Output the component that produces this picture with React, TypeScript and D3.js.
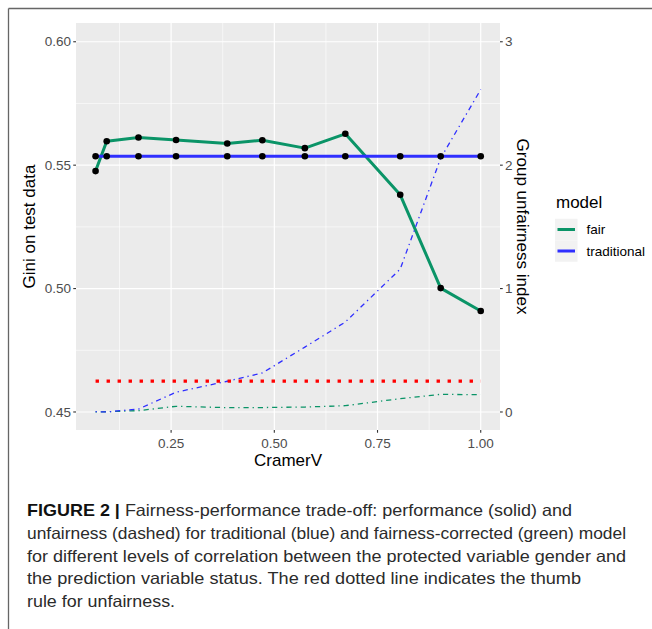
import React from "react";
import * as d3 from "d3";

const cramerV = [0.067, 0.094, 0.171, 0.262, 0.386, 0.471, 0.574, 0.672, 0.805, 0.903, 1.0];
const giniFair = [0.5476, 0.5597, 0.5612, 0.5602, 0.5588, 0.5601, 0.5569, 0.5627, 0.538, 0.5002, 0.4909];
const giniTraditional = [0.5536, 0.5536, 0.5536, 0.5536, 0.5536, 0.5536, 0.5536, 0.5536, 0.5536, 0.5536, 0.5536];
const unfairFair = [0.0, 0.002, 0.011, 0.046, 0.035, 0.036, 0.04, 0.051, 0.108, 0.143, 0.14];
const unfairTraditional = [0.003, 0.0, 0.024, 0.16, 0.249, 0.316, 0.526, 0.729, 1.158, 2.057, 2.613];
const unfairThreshold = 0.25;
const xTicks = [0.25, 0.5, 0.75, 1.0];
const xMinor = [0.125, 0.375, 0.625, 0.875];
const yTicks = [0.45, 0.5, 0.55, 0.6];
const yMinor = [0.475, 0.525, 0.575];
const rightTicks = [0, 1, 2, 3];
const legendLabels = ["fair", "traditional"];
const captionLines = [
  "Fairness-performance trade-off: performance (solid) and",
  "unfairness (dashed) for traditional (blue) and fairness-corrected (green) model",
  "for different levels of correlation between the protected variable gender and",
  "the prediction variable status. The red dotted line indicates the thumb",
  "rule for unfairness.",
];
// target right edges of caption lines 1-4 (line 5 follows the average compression)
const captionEnds = [572, 626, 626, 581];

const GREEN = "#0a9467";
const BLUE = "#2f2fff";
const FONT = "'Liberation Sans', Arial, Helvetica, sans-serif";
const CAP_X = 27;

export default function App() {
  const capRefs = React.useRef<(SVGTextElement | null)[]>([]);
  const [capLens, setCapLens] = React.useState<(number | undefined)[]>([]);

  React.useLayoutEffect(() => {
    const nat = capRefs.current.map((el) => (el ? el.getComputedTextLength() : 0));
    const ks = captionEnds.map((e, i) => (e - CAP_X) / (nat[i] || 1));
    const kAvg = d3.mean(ks) || 1;
    const lens = nat.map((n, i) => (i < captionEnds.length ? captionEnds[i] - CAP_X : n * kAvg));
    setCapLens(lens);
  }, []);

  const x = d3.scaleLinear().domain([0.0196, 1.0467]).range([76, 500]);
  const y = d3.scaleLinear().domain([0.4427, 0.6076]).range([430, 23]);
  const toGini = (u: number) => 0.45 + u / 20;

  const line = d3
    .line<[number, number]>()
    .x((d) => x(d[0]))
    .y((d) => y(d[1]));

  const zip = (a: number[], b: number[]) => a.map((v, i) => [v, b[i]] as [number, number]);
  const fairPts = zip(cramerV, giniFair);
  const tradPts = zip(cramerV, giniTraditional);
  const fairU = zip(cramerV, unfairFair.map(toGini));
  const tradU = zip(cramerV, unfairTraditional.map(toGini));

  const [px0, px1] = x.range();
  const [py1, py0] = y.range();
  const dotdash = "1.3 3.9 5.2 3.9";

  return (
    <svg
      width={652}
      height={629}
      style={{ position: "absolute", left: 0, top: 0, background: "#fff" }}
      fontFamily={FONT}
    >
      <rect x={0} y={0} width={652} height={629} fill="#fff" />
      {/* outer frame */}
      <line x1={8.5} x2={652} y1={8.5} y2={8.5} stroke="#666" strokeWidth={1.3} />
      <line x1={8.5} x2={8.5} y1={8.5} y2={629} stroke="#666" strokeWidth={1.3} />

      {/* panel */}
      <rect x={px0} y={py0} width={px1 - px0} height={py1 - py0} fill="#EBEBEB" />
      {xMinor.map((v) => (
        <line key={"xm" + v} x1={x(v)} x2={x(v)} y1={py0} y2={py1} stroke="#fff" strokeWidth={0.6} />
      ))}
      {yMinor.map((v) => (
        <line key={"ym" + v} x1={px0} x2={px1} y1={y(v)} y2={y(v)} stroke="#fff" strokeWidth={0.6} />
      ))}
      {xTicks.map((v) => (
        <line key={"xg" + v} x1={x(v)} x2={x(v)} y1={py0} y2={py1} stroke="#fff" strokeWidth={1.2} />
      ))}
      {yTicks.map((v) => (
        <line key={"yg" + v} x1={px0} x2={px1} y1={y(v)} y2={y(v)} stroke="#fff" strokeWidth={1.2} />
      ))}

      {/* solid performance lines */}
      <path d={line(fairPts) || ""} fill="none" stroke={GREEN} strokeWidth={3} strokeLinejoin="round" />
      <path d={line(tradPts) || ""} fill="none" stroke={BLUE} strokeWidth={3} strokeLinejoin="round" />

      {/* dashed unfairness lines */}
      <path d={line(fairU) || ""} fill="none" stroke={GREEN} strokeWidth={1.3} strokeDasharray={dotdash} />
      <path d={line(tradU) || ""} fill="none" stroke={BLUE} strokeWidth={1.3} strokeDasharray={dotdash} />

      {/* threshold */}
      <line
        x1={x(cramerV[0])}
        x2={x(cramerV[cramerV.length - 1])}
        y1={y(toGini(unfairThreshold))}
        y2={y(toGini(unfairThreshold))}
        stroke="#ff0000"
        strokeWidth={3.4}
        strokeDasharray="3.4 7.6"
      />

      {/* points */}
      {fairPts.concat(tradPts).map((p, i) => (
        <circle key={"p" + i} cx={x(p[0])} cy={y(p[1])} r={3.3} fill="#000" />
      ))}

      {/* left axis */}
      {yTicks.map((v) => (
        <g key={"yl" + v}>
          <line x1={px0 - 2.75} x2={px0} y1={y(v)} y2={y(v)} stroke="#333" strokeWidth={1.1} />
          <text x={px0 - 5} y={y(v)} dy="0.35em" textAnchor="end" fontSize={13.5} fill="#4d4d4d">
            {v.toFixed(2)}
          </text>
        </g>
      ))}
      {/* right axis */}
      {rightTicks.map((v) => (
        <g key={"yr" + v}>
          <line x1={px1} x2={px1 + 2.75} y1={y(toGini(v))} y2={y(toGini(v))} stroke="#333" strokeWidth={1.1} />
          <text x={px1 + 5} y={y(toGini(v))} dy="0.35em" textAnchor="start" fontSize={13.5} fill="#4d4d4d">
            {v}
          </text>
        </g>
      ))}
      {/* bottom axis */}
      {xTicks.map((v) => (
        <g key={"xl" + v}>
          <line x1={x(v)} x2={x(v)} y1={py1} y2={py1 + 2.75} stroke="#333" strokeWidth={1.1} />
          <text x={x(v)} y={447.5} textAnchor="middle" fontSize={13.5} fill="#4d4d4d">
            {v.toFixed(2)}
          </text>
        </g>
      ))}

      {/* axis titles */}
      <text x={(px0 + px1) / 2} y={466} textAnchor="middle" fontSize={17} fill="#000">
        CramerV
      </text>
      <text
        transform={`translate(35,${(py0 + py1) / 2}) rotate(-90)`}
        textAnchor="middle"
        fontSize={17}
        fill="#000"
      >
        Gini on test data
      </text>
      <text
        transform={`translate(517,${(py0 + py1) / 2}) rotate(90)`}
        textAnchor="middle"
        fontSize={17}
        fill="#000"
      >
        Group unfairness index
      </text>

      {/* legend */}
      <text x={556} y={208} fontSize={17} fill="#000">
        model
      </text>
      {legendLabels.map((lab, i) => {
        const cy = 229.5 + i * 21.5;
        return (
          <g key={lab}>
            <rect x={555} y={cy - 10.75} width={22.5} height={21.5} fill="#F2F2F2" />
            <line x1={557.5} x2={575} y1={cy} y2={cy} stroke={i === 0 ? GREEN : BLUE} strokeWidth={3} />
            <text x={586.5} y={cy} dy="0.35em" fontSize={13.5} fill="#000">
              {lab}
            </text>
          </g>
        );
      })}

      {/* caption */}
      {captionLines.map((ln, i) => (
        <text
          key={"c" + i}
          ref={(el) => {
            capRefs.current[i] = el;
          }}
          x={CAP_X}
          y={516 + i * 22.8}
          fontSize={16.5}
          fill="#2b2b2b"
          fontFamily="'Liberation Sans', Arial, sans-serif"
          textLength={capLens[i]}
          lengthAdjust={capLens[i] ? "spacingAndGlyphs" : undefined}
        >
          {i === 0 ? (
            <>
              <tspan fontWeight="bold" fill="#111">FIGURE 2 | </tspan>
              <tspan>{ln}</tspan>
            </>
          ) : (
            ln
          )}
        </text>
      ))}
    </svg>
  );
}
